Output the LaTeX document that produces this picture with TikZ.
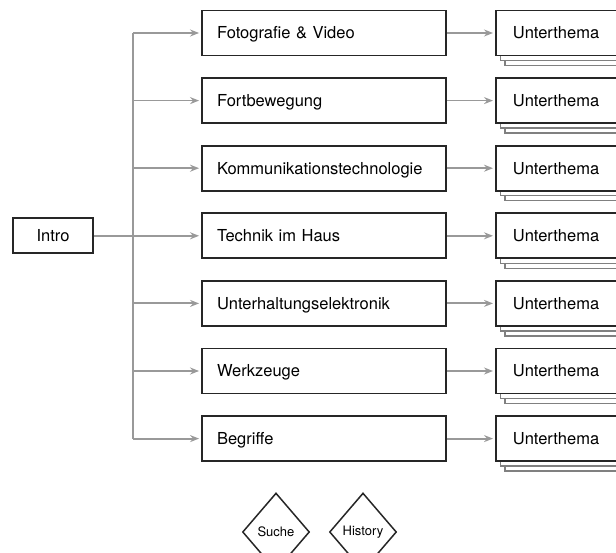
\documentclass[tikz,border=0pt]{standalone}
\usepackage{fontspec}
\setmainfont{TeX Gyre Heros}
\usetikzlibrary{shapes.geometric,arrows.meta,shadows}
\begin{document}
\begin{tikzpicture}[x=1pt, y=-1pt,
  kasten/.style={draw=black!85, line width=1.9pt, fill=white, minimum height=45pt, inner xsep=15pt, text height=11.8pt, text depth=0pt, align=left, font=\fontsize{16.5}{19}\selectfont},
  thema/.style={kasten, text width=214pt},
  unter/.style={kasten, text width=120pt, inner xsep=17pt, anchor=west,
    double copy shadow={shadow xshift=4.5pt, shadow yshift=-5pt, draw=black!50, line width=1.3pt, fill=white}},
  pfeil/.style={draw=black!40, line width=1.8pt, -{Stealth[length=9pt,width=7pt,inset=3pt]}, shorten >=2pt},
  linie/.style={draw=black!40, line width=1.8pt},
  raute/.style={diamond, draw=black!85, line width=1.5pt, minimum width=67pt, minimum height=78pt, inner sep=0pt, font=\fontsize{13}{15}\selectfont}]
\useasboundingbox (0,0) rectangle (616,553);
\clip (0,0) rectangle (616,553);
\foreach \name [count=\i] in {Fotografie \& Video, Fortbewegung, Kommunikationstechnologie, Technik im Haus, Unterhaltungselektronik, Werkzeuge, Begriffe} {
  \node[thema] (t\i) at ({324},{33+67.6*(\i-1)}) {\name};
  \node[unter] (u\i) at ({495},{33+67.6*(\i-1)}) {Unterthema};
  \coordinate (v\i) at ({133},{33+67.6*(\i-1)});
  \draw[pfeil] (v\i) -- (t\i.west);
  \draw[pfeil] (t\i.east) -- (u\i.west);
}
\node[kasten, minimum width=80pt, minimum height=35pt, inner xsep=0pt] (intro) at (v4 -| 53,0) {Intro};
\draw[linie] (v1) -- (v7);
\draw[linie] (intro.east) -- (v4);
\node[raute] (suche) at (276,532) {Suche};
\node[raute] (history) at (363,532) {History};
\end{tikzpicture}
\end{document}
